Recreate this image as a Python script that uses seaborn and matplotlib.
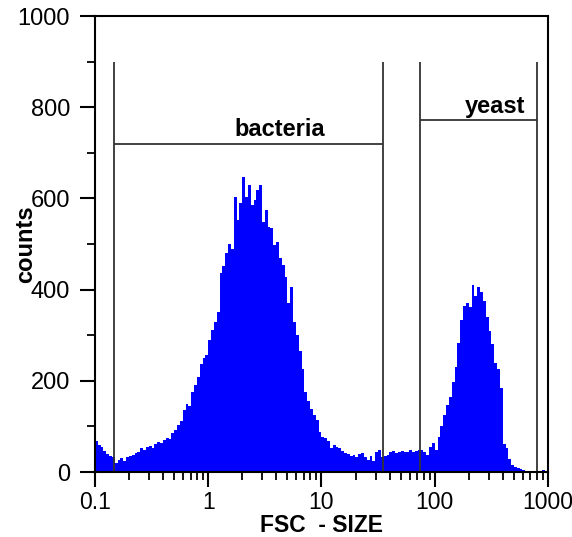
import numpy as np
import pandas as pd
import matplotlib
matplotlib.use("Agg")
import matplotlib.pyplot as plt
import seaborn as sns
from matplotlib.ticker import LogLocator, FixedLocator, FixedFormatter, NullFormatter

# FSC histogram, 40 channels per decade from 0.1 to 1000
decade_range = (-1, 3)
n_bins = 160
counts = [
    68, 60, 55, 46, 40, 36, 33, 20, 26, 30,
    24, 33, 36, 38, 42, 45, 52, 48, 55, 57,
    53, 62, 66, 64, 70, 75, 72, 85, 93, 104,
    112, 135, 150, 145, 175, 190, 208, 238, 250, 257,
    290, 312, 330, 352, 436, 452, 480, 500, 490, 603,
    553, 590, 647, 603, 629, 585, 596, 618, 629, 548,
    575, 537, 535, 498, 504, 470, 455, 428, 370, 405,
    330, 300, 265, 225, 175, 155, 138, 125, 114, 88,
    77, 74, 68, 53, 59, 55, 53, 46, 42, 40,
    35, 37, 33, 40, 42, 33, 26, 35, 25, 44,
    48, 33, 36, 37, 44, 46, 42, 44, 46, 44,
    45, 48, 44, 46, 48, 48, 45, 37, 55, 64,
    48, 77, 100, 125, 147, 165, 197, 230, 283, 333,
    365, 370, 362, 410, 385, 406, 395, 375, 340, 310,
    280, 239, 225, 184, 62, 53, 28, 16, 12, 9,
    6, 4, 3, 2, 3, 2, 1, 3, 4, 3,
]

# gates
gate_names = ["bacteria", "yeast"]
gate_left = [0.147, 74]
gate_right = [35, 800]
gate_level = [720, 772]
gate_top = 900

x_ticks = [0.1, 1, 10, 100, 1000]
x_ticklabels = ["0.1", "1", "10", "100", "1000"]

log_edges = np.linspace(decade_range[0], decade_range[1], n_bins + 1)
centers = 10 ** ((log_edges[:-1] + log_edges[1:]) / 2)
df = pd.DataFrame({"fsc": centers, "counts": counts})

sns.set_style("ticks")
plt.rcParams["font.family"] = ["Liberation Sans", "DejaVu Sans"]
plt.rcParams["text.color"] = "black"
plt.rcParams["axes.labelcolor"] = "black"
plt.rcParams["xtick.color"] = "black"
plt.rcParams["ytick.color"] = "black"

fig = plt.figure(figsize=(5.72, 5.37), dpi=100)
ax = fig.add_axes([0.166, 0.121, 0.792, 0.849])

sns.histplot(data=df, x="fsc", weights="counts", bins=n_bins, binrange=decade_range,
             log_scale=True, element="step", fill=True, color="#0000ff",
             alpha=1, linewidth=0, ax=ax)

# gate markers
ax.vlines(gate_left + gate_right, 0, gate_top, color="#333333", lw=1.3)
ax.hlines(gate_level, gate_left, gate_right, color="#333333", lw=1.3)
ax.text(4.3, 727, gate_names[0], ha="center", va="bottom", fontsize=17, fontweight="bold")
ax.text(625, 776, gate_names[1], ha="right", va="bottom", fontsize=17, fontweight="bold")

ax.set_xlim(0.1, 1000)
ax.set_ylim(0, 1000)
ax.xaxis.set_major_locator(FixedLocator(x_ticks))
ax.xaxis.set_major_formatter(FixedFormatter(x_ticklabels))
ax.xaxis.set_minor_locator(LogLocator(base=10, subs=np.arange(2, 10)))
ax.xaxis.set_minor_formatter(NullFormatter())
ax.set_yticks(np.arange(0, 1001, 200))
ax.set_yticks(np.arange(100, 1000, 200), minor=True)

for s in ax.spines.values():
    s.set_linewidth(1.5)
    s.set_color("black")
    s.set_visible(True)
ax.tick_params(which="major", length=11, width=1.5, labelsize=17, color="black", labelcolor="black")
ax.tick_params(axis="x", which="major", labelsize=16.5)
ax.tick_params(which="minor", length=6, width=1.3, color="black")
ax.tick_params(axis="y", pad=7)
ax.tick_params(axis="x", pad=3)

ax.set_xlabel("FSC  - SIZE", fontsize=16.5, fontweight="bold", labelpad=0, color="black")
ax.set_ylabel("counts", fontsize=17, fontweight="bold", labelpad=-14, color="black")

fig.savefig("out.png", dpi=100)
